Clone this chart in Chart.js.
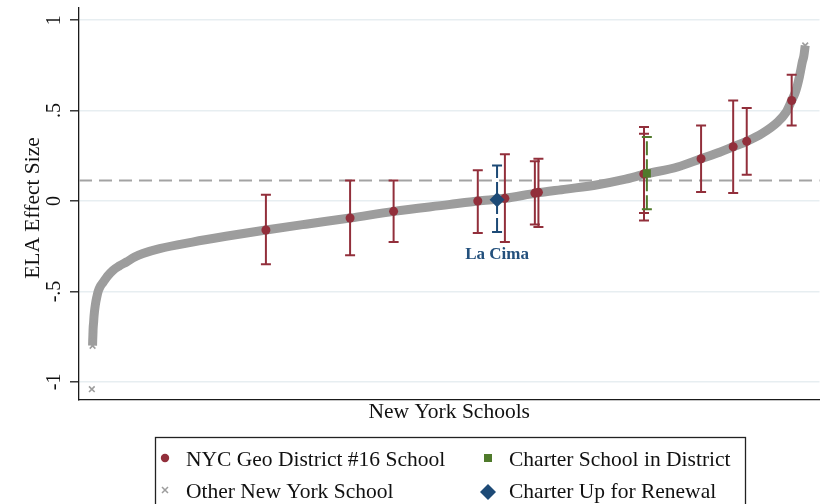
<!doctype html>
<html lang="en">
<head>
<meta charset="utf-8">
<title>ELA Effect Size</title>
<script src="https://cdn.jsdelivr.net/npm/chart.js@4/dist/chart.umd.min.js"></script>
<style>
  html, body { margin: 0; padding: 0; background: #fff; }
  #wrap { position: relative; width: 827px; height: 504px; }
</style>
</head>
<body>
<div id="wrap"><canvas id="myChart" width="827" height="504"></canvas></div>
<script>
// all New York schools, sorted by effect size (x = rank in percent)
var otherRank   = [0, 0.05, 0.1, 0.12, 0.15, 0.18, 0.25, 0.3, 0.36, 0.42, 0.55, 0.7, 0.88, 1.2, 1.58, 2.2, 2.97, 3.8, 4.85, 6.0, 7.16, 9.5, 14.1, 18.8, 24.4, 30, 36.2, 42.3, 50, 54.1, 57.9, 62.3, 66.5, 70.9, 74.5, 77.7, 82.1, 85.4, 88, 89.9, 91.8, 94, 96.1, 97.3, 98.1, 98.6, 98.9, 99.2, 99.4, 99.6, 99.8, 100];
var otherEffect = [-1.04, null, -0.80, -0.77, -0.74, -0.705, -0.67, -0.64, -0.615, -0.595, -0.56, -0.53, -0.50, -0.47, -0.45, -0.415, -0.383, -0.36, -0.337, -0.31, -0.29, -0.263, -0.227, -0.195, -0.16, -0.128, -0.094, -0.057, -0.02, 0.0, 0.015, 0.044, 0.066, 0.09, 0.118, 0.15, 0.188, 0.234, 0.27, 0.30, 0.33, 0.375, 0.436, 0.49, 0.556, 0.60, 0.64, 0.69, 0.73, 0.77, 0.80, 0.86];

// NYC Geo District #16 schools
var distRank   = [24.4, 36.2, 42.3, 54.1, 57.9, 62.1, 62.6, 77.4, 77.4, 85.4, 89.9, 91.8, 98.1];
var distEffect = [-0.16, -0.094, -0.057, 0.0, 0.015, 0.044, 0.048, 0.15, 0.15, 0.234, 0.30, 0.33, 0.556];
var distLow    = [-0.35, -0.30, -0.227, -0.177, -0.227, -0.13, -0.144, -0.107, -0.066, 0.05, 0.044, 0.145, 0.418];
var distHigh   = [0.035, 0.114, 0.114, 0.17, 0.258, 0.22, 0.234, 0.409, 0.372, 0.418, 0.556, 0.514, 0.698];

// charter school in district
var charterRank = [77.8];
var charterEffect = [0.153];
var charterLow = [-0.046];
var charterHigh = [0.354];

// charter up for renewal (La Cima)
var renewRank = [56.8];
var renewEffect = [0.007];
var renewLow = [-0.171];
var renewHigh = [0.197];
var renewName = 'La Cima';

var refLine = 0.113;
var yTicks = [-1, -0.5, 0, 0.5, 1];
var yTickLabels = ['-1', '-.5', '0', '.5', '1'];

var RED = '#922f3b', GRAY = '#9d9d9d', GREEN = '#4f7a2b', BLUE = '#1d4a76';
var SERIF = '"Liberation Serif", "Times New Roman", serif';

function pts(xs, ys) {
    return xs.map(function (x, i) { return { x: x, y: ys[i] }; });
}

var errorSets = [
    { x: distRank, lo: distLow, hi: distHigh, color: RED, dash: [] },
    { x: charterRank, lo: charterLow, hi: charterHigh, color: GREEN, dash: [14, 4] },
    { x: renewRank, lo: renewLow, hi: renewHigh, color: BLUE, dash: [14, 4] }
];

var extras = {
    id: 'extras',
    beforeDatasetsDraw: function (chart) {
        var ctx = chart.ctx, a = chart.chartArea;
        var yy = chart.scales.y.getPixelForValue(refLine);
        ctx.save();
        ctx.strokeStyle = '#a3a3a3';
        ctx.lineWidth = 2;
        ctx.setLineDash([13, 7]);
        ctx.beginPath();
        ctx.moveTo(a.left, yy);
        ctx.lineTo(a.right, yy);
        ctx.stroke();
        ctx.restore();
    },
    afterDatasetDraw: function (chart, args) {
        if (args.index !== 0) return;
        var ctx = chart.ctx, sx = chart.scales.x, sy = chart.scales.y;
        ctx.save();
        ctx.lineWidth = 2;
        errorSets.forEach(function (s) {
            ctx.strokeStyle = s.color;
            s.x.forEach(function (xv, i) {
                var px = sx.getPixelForValue(xv);
                var p1 = sy.getPixelForValue(s.lo[i]);
                var p2 = sy.getPixelForValue(s.hi[i]);
                ctx.setLineDash(s.dash);
                ctx.beginPath();
                ctx.moveTo(px, p1);
                ctx.lineTo(px, p2);
                ctx.stroke();
                ctx.setLineDash([]);
                ctx.beginPath();
                ctx.moveTo(px - 5, p1); ctx.lineTo(px + 5, p1);
                ctx.moveTo(px - 5, p2); ctx.lineTo(px + 5, p2);
                ctx.stroke();
            });
        });
        ctx.restore();
    },
    afterDraw: function (chart) {
        var ctx = chart.ctx, a = chart.chartArea, sx = chart.scales.x, sy = chart.scales.y;
        ctx.save();
        ctx.fillStyle = '#111';

        // y tick labels, rotated
        ctx.font = '20px ' + SERIF;
        ctx.textAlign = 'center';
        ctx.textBaseline = 'alphabetic';
        yTicks.forEach(function (v, i) {
            ctx.save();
            ctx.translate(60, sy.getPixelForValue(v));
            ctx.rotate(-Math.PI / 2);
            ctx.fillText(yTickLabels[i], 0, 0);
            ctx.restore();
        });

        // y axis title
        ctx.font = '21.5px ' + SERIF;
        ctx.save();
        ctx.translate(39, 208);
        ctx.rotate(-Math.PI / 2);
        ctx.fillText('ELA Effect Size', 0, 0);
        ctx.restore();

        // x axis title
        ctx.font = '21.5px ' + SERIF;
        ctx.fillText('New York Schools', (a.left + a.right) / 2, 418);

        // label under the renewal school
        ctx.fillStyle = '#23507c';
        ctx.font = 'bold 17px ' + SERIF;
        ctx.fillText(renewName, sx.getPixelForValue(renewRank[0]), sy.getPixelForValue(renewLow[0]) + 27);

        // legend
        ctx.strokeStyle = '#222';
        ctx.lineWidth = 1.3;
        ctx.strokeRect(155.5, 437.5, 590, 80);
        ctx.font = '21.5px ' + SERIF;
        ctx.textAlign = 'left';
        ctx.fillStyle = '#111';
        ctx.fillText('NYC Geo District #16 School', 186, 466);
        ctx.fillText('Other New York School', 186, 498);
        ctx.fillText('Charter School in District', 509, 466);
        ctx.fillText('Charter Up for Renewal', 509, 498);

        ctx.fillStyle = RED;
        ctx.beginPath(); ctx.arc(165, 458, 4.2, 0, Math.PI * 2); ctx.fill();
        ctx.strokeStyle = GRAY; ctx.lineWidth = 1.5;
        ctx.beginPath();
        ctx.moveTo(162, 487); ctx.lineTo(168, 493);
        ctx.moveTo(168, 487); ctx.lineTo(162, 493);
        ctx.stroke();
        ctx.fillStyle = GREEN;
        ctx.fillRect(484, 454, 8, 8);
        ctx.fillStyle = BLUE;
        ctx.beginPath();
        ctx.moveTo(488, 484); ctx.lineTo(496, 492); ctx.lineTo(488, 500); ctx.lineTo(480, 492);
        ctx.closePath(); ctx.fill();
        ctx.restore();
    }
};

var ctx = document.getElementById('myChart').getContext('2d');
var myChart = new Chart(ctx, {
    type: 'scatter',
    data: {
        datasets: [{
            label: 'Other New York School',
            type: 'line',
            order: 4,
            data: pts(otherRank, otherEffect),
            borderColor: GRAY,
            borderWidth: 9,
            cubicInterpolationMode: 'monotone',
            spanGaps: false,
            fill: false,
            pointStyle: 'crossRot',
            pointRadius: 4,
            pointBorderWidth: 1.6,
            pointBorderColor: GRAY,
            pointBackgroundColor: GRAY
        }, {
            label: 'NYC Geo District #16 School',
            order: 3,
            data: pts(distRank, distEffect),
            pointStyle: 'circle',
            pointRadius: 4.5,
            pointBorderWidth: 0,
            pointBackgroundColor: RED,
            showLine: false
        }, {
            label: 'Charter School in District',
            order: 2,
            data: pts(charterRank, charterEffect),
            pointStyle: 'rect',
            pointRadius: 5.7,
            pointBorderWidth: 0,
            pointBackgroundColor: GREEN,
            showLine: false
        }, {
            label: 'Charter Up for Renewal',
            order: 1,
            data: pts(renewRank, renewEffect),
            pointStyle: 'rectRot',
            pointRadius: 7.5,
            pointBorderWidth: 0,
            pointBackgroundColor: BLUE,
            showLine: false
        }]
    },
    options: {
        responsive: false,
        animation: false,
        devicePixelRatio: 1,
        layout: { padding: { top: 5, right: 5, left: 0, bottom: 0 } },
        plugins: { legend: { display: false }, tooltip: { enabled: false } },
        scales: {
            x: {
                type: 'linear', min: -1.8, max: 102,
                grid: { display: false, drawTicks: false },
                ticks: { display: false },
                border: { display: true, color: '#1a1a1a', width: 1.3 },
                afterFit: function (s) { s.height = 104; }
            },
            y: {
                type: 'linear', min: -1.1, max: 1.07,
                afterBuildTicks: function (s) { s.ticks = yTicks.map(function (v) { return { value: v }; }); },
                ticks: { display: false },
                grid: { color: '#e7eef1', lineWidth: 1.6, drawTicks: true, tickLength: 9, tickColor: '#1a1a1a', tickWidth: 1.3 },
                border: { color: '#1a1a1a', width: 1.3 },
                afterFit: function (s) { s.width = 79; }
            }
        }
    },
    plugins: [extras]
});
</script>
</body>
</html>
